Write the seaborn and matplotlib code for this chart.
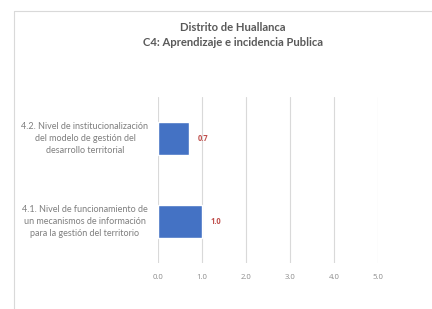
import matplotlib
matplotlib.use("Agg")
import matplotlib.pyplot as plt
import seaborn as sns
import pandas as pd
from matplotlib.lines import Line2D

# datos del grafico
indicadores = [
    "4.2. Nivel de institucionalización\ndel modelo de gestión del\ndesarrollo territorial",
    "4.1. Nivel de funcionamiento de\nun mecanismos de información\npara la gestión del territorio",
]
valores = [0.7, 1.0]
ticks_x = [0, 1, 2, 3, 4, 5]
titulo = "Distrito de Huallanca\nC4: Aprendizaje e incidencia Publica"

df = pd.DataFrame({"indicador": indicadores, "valor": valores})

sns.set_style("white")
plt.rcParams["font.family"] = ["Lato", "DejaVu Sans"]

fig = plt.figure(figsize=(4.32, 3.09), dpi=100)
ax = fig.add_axes([158 / 432, 1 - 263 / 309, 220 / 432, 166 / 309])

sns.barplot(data=df, x="valor", y="indicador", orient="h", color="#4472C4",
            width=0.39, saturation=1, ax=ax)

ax.set_xlim(0, 5)
ax.set_ylim(1.5, -0.5)
ax.set_xticks(ticks_x)
ax.set_xticklabels([f"{t:.1f}" for t in ticks_x], fontsize=5.6, color="#8c8c8c",
                   family="Open Sans")
ax.tick_params(axis="x", length=0, pad=8)
ax.set_yticks([])
ax.grid(axis="x", color="#d9d9d9", linewidth=0.8)
ax.set_axisbelow(True)
for s in ax.spines.values():
    s.set_visible(False)
ax.set_xlabel("")
ax.set_ylabel("")

# etiquetas de categorias centradas a la izquierda
for i, lab in enumerate(indicadores):
    ax.text(-0.332, i, lab, transform=ax.get_yaxis_transform(), ha="center",
            va="center", fontsize=6.5, color="#7f7f7f", linespacing=1.45)

for i, v in enumerate(valores):
    ax.text(v + 0.2, i, f"{v:.1f}", va="center", ha="left", fontsize=5.5,
            fontweight="bold", color="#c0504d", family="Open Sans")

fig.text(233 / 432, 1 - 35 / 309, titulo, ha="center", va="center", fontsize=8.1,
         fontweight="bold", color="#595959", linespacing=1.45)

# marco del grafico
fig.add_artist(Line2D([14 / 432, 1], [1 - 11 / 309, 1 - 11 / 309],
                      transform=fig.transFigure, color="#d9d9d9", lw=0.8))
fig.add_artist(Line2D([14 / 432, 14 / 432], [0, 1 - 11 / 309],
                      transform=fig.transFigure, color="#d9d9d9", lw=0.8))

fig.savefig("out.png", dpi=100)
